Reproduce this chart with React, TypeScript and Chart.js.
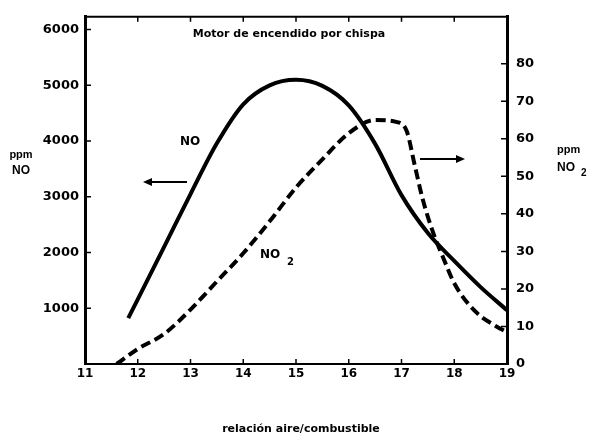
import React, { useEffect, useRef } from "react";
import { Chart, registerables } from "chart.js";

Chart.register(...registerables);

// relación aire/combustible
const NO_X = [11.82, 12.0, 12.5, 13.0, 13.5, 14.0, 14.5, 15.0, 15.5, 16.0, 16.5, 17.0, 17.5, 18.0, 18.5, 19.0];
// ppm NO (left axis)
const NO_Y = [824, 1160, 2100, 3050, 3960, 4660, 5000, 5100, 4990, 4640, 3950, 3030, 2350, 1850, 1380, 965];

const NO2_X = [11.6, 12.0, 12.5, 13.0, 13.5, 14.0, 14.5, 15.0, 15.5, 16.0, 16.5, 16.9, 17.1, 17.25, 17.4, 17.6, 17.8, 18.0, 18.4, 18.8, 19.0];
// ppm NO2 (right axis)
const NO2_Y = [0, 4, 8, 14.5, 22, 29.5, 38, 47, 54.5, 61.5, 65, 64.5, 62, 53, 44, 35, 28, 21.5, 14, 10, 8.5];

const X_TICKS = [11, 12, 13, 14, 15, 16, 17, 18, 19];
const X_INNER_TICKS = [12, 13, 14, 15, 16, 17, 18];
const NO_TICKS = [1000, 2000, 3000, 4000, 5000, 6000];
const NO2_TICKS = [0, 10, 20, 30, 40, 50, 60, 70, 80];

const TITLE = "Motor de encendido por chispa";
const X_TITLE = "relación aire/combustible";

const FONT = "DejaVu Sans";

const decorPlugin = {
  id: "decor",
  afterDraw(chart: any) {
    const ctx = chart.ctx as CanvasRenderingContext2D;
    const { left, right, top, bottom } = chart.chartArea;
    const xs = chart.scales.x;
    const yL = chart.scales.yNO;
    const yR = chart.scales.yNO2;
    ctx.save();
    ctx.strokeStyle = "#000";
    ctx.fillStyle = "#000";
    // top frame line
    ctx.lineWidth = 2;
    ctx.beginPath();
    ctx.moveTo(left - 1, top);
    ctx.lineTo(right + 1, top);
    ctx.stroke();
    // inward tick marks
    ctx.lineWidth = 1.5;
    ctx.beginPath();
    for (const v of X_INNER_TICKS) {
      const px = xs.getPixelForValue(v);
      ctx.moveTo(px, bottom);
      ctx.lineTo(px, bottom - 5);
      ctx.moveTo(px, top);
      ctx.lineTo(px, top + 5);
    }
    for (const v of NO_TICKS) {
      const py = yL.getPixelForValue(v);
      ctx.moveTo(left, py);
      ctx.lineTo(left + 6, py);
    }
    for (const v of NO2_TICKS) {
      if (v === 0) continue;
      const py = yR.getPixelForValue(v);
      ctx.moveTo(right, py);
      ctx.lineTo(right - 6, py);
    }
    ctx.stroke();

    // texts
    ctx.textAlign = "center";
    ctx.textBaseline = "middle";
    ctx.font = `bold 11px "${FONT}"`;
    ctx.fillText(TITLE, 289, 34);
    ctx.fillText(X_TITLE, 301, 429);

    ctx.font = `bold 11px "Liberation Sans"`;
    ctx.fillText("ppm", 21, 155);
    ctx.font = `bold 12px "Liberation Sans"`;
    ctx.fillText("NO", 21, 171);
    ctx.font = `bold 11px "Liberation Sans"`;
    ctx.textAlign = "left";
    ctx.fillText("ppm", 557, 150);
    ctx.font = `bold 12px "Liberation Sans"`;
    ctx.fillText("NO", 557, 168);
    ctx.font = `bold 10px "Liberation Sans"`;
    ctx.fillText("2", 581, 173);

    // curve labels
    ctx.font = `bold 12px "${FONT}"`;
    ctx.textAlign = "left";
    ctx.fillText("NO", 180, 142);
    ctx.fillText("NO", 260, 255);
    ctx.font = `bold 10px "${FONT}"`;
    ctx.fillText("2", 287, 262);

    // arrows
    ctx.lineWidth = 2;
    ctx.beginPath();
    ctx.moveTo(187, 182);
    ctx.lineTo(148, 182);
    ctx.moveTo(420, 159);
    ctx.lineTo(458, 159);
    ctx.stroke();
    ctx.beginPath();
    ctx.moveTo(143, 182);
    ctx.lineTo(152, 178);
    ctx.lineTo(152, 186);
    ctx.closePath();
    ctx.fill();
    ctx.beginPath();
    ctx.moveTo(465, 159);
    ctx.lineTo(456, 155);
    ctx.lineTo(456, 163);
    ctx.closePath();
    ctx.fill();
    ctx.restore();
  },
};

export default function App() {
  const ref = useRef<HTMLCanvasElement | null>(null);

  useEffect(() => {
    if (!ref.current) return;
    const chart = new Chart(ref.current, {
      type: "line",
      data: {
        datasets: [
          {
            label: "NO",
            data: NO_X.map((x, i) => ({ x, y: NO_Y[i] })),
            yAxisID: "yNO",
            borderColor: "#000",
            borderWidth: 4,
            pointRadius: 0,
            cubicInterpolationMode: "monotone",
            fill: false,
          },
          {
            label: "NO2",
            data: NO2_X.map((x, i) => ({ x, y: NO2_Y[i] })),
            yAxisID: "yNO2",
            borderColor: "#000",
            borderWidth: 4,
            borderDash: [10, 5],
            pointRadius: 0,
            cubicInterpolationMode: "monotone",
            fill: false,
          },
        ],
      },
      options: {
        responsive: false,
        animation: false,
        devicePixelRatio: 1,
        layout: { padding: { top: 10, left: 0, right: 0, bottom: 0 } },
        plugins: {
          legend: { display: false },
          tooltip: { enabled: false },
          title: { display: false },
        },
        scales: {
          x: {
            type: "linear",
            position: "bottom",
            min: 11,
            max: 19,
            grid: { display: false, drawTicks: false },
            border: { display: true, color: "#000", width: 2 },
            ticks: {
              color: "#000",
              padding: 3,
              font: { family: FONT, size: 12, weight: "bold" },
              callback: (v: any) => String(v),
            },
            afterBuildTicks: (s: any) => {
              s.ticks = X_TICKS.map((value) => ({ value }));
            },
            afterFit: (s: any) => {
              s.height = 75;
            },
          },
          yNO: {
            type: "linear",
            position: "left",
            min: 0,
            max: 6230,
            grid: { display: false, drawTicks: false },
            border: { display: true, color: "#000", width: 3 },
            ticks: {
              color: "#000",
              padding: 6,
              font: { family: FONT, size: 13, weight: "bold" },
              callback: (v: any) => String(v),
            },
            afterBuildTicks: (s: any) => {
              s.ticks = NO_TICKS.map((value) => ({ value }));
            },
            afterFit: (s: any) => {
              s.width = 85;
            },
          },
          yNO2: {
            type: "linear",
            position: "right",
            min: 0,
            max: 92.5,
            grid: { display: false, drawTicks: false },
            border: { display: true, color: "#000", width: 3 },
            ticks: {
              color: "#000",
              padding: 9,
              font: { family: FONT, size: 13, weight: "bold" },
              callback: (v: any) => String(v),
            },
            afterBuildTicks: (s: any) => {
              s.ticks = NO2_TICKS.map((value) => ({ value }));
            },
            afterFit: (s: any) => {
              s.width = 85;
            },
          },
        },
      },
      plugins: [decorPlugin],
    } as any);
    return () => chart.destroy();
  }, []);

  return (
    <div style={{ position: "absolute", left: 0, top: 0, width: 592, height: 439, background: "#fff" }}>
      <canvas ref={ref} width={592} height={439} style={{ display: "block", width: 592, height: 439 }} />
    </div>
  );
}
